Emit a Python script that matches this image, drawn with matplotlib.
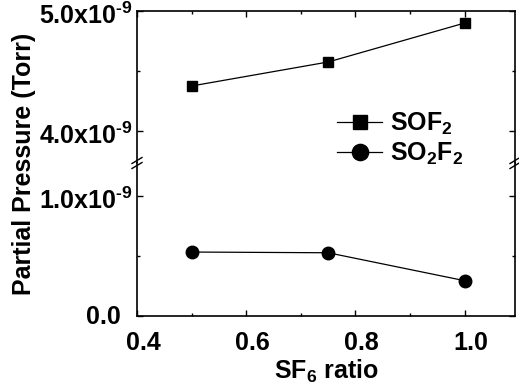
import matplotlib
matplotlib.use("Agg")
import matplotlib.pyplot as plt
from matplotlib.lines import Line2D
from matplotlib.ticker import FixedLocator
from matplotlib.transforms import ScaledTranslation

plt.rcParams['font.family'] = ['Liberation Sans', 'DejaVu Sans']
plt.rcParams['font.weight'] = 'bold'
plt.rcParams['mathtext.fontset'] = 'custom'
plt.rcParams['mathtext.rm'] = 'Liberation Sans:bold'
plt.rcParams['mathtext.it'] = 'Liberation Sans:bold'
plt.rcParams['mathtext.bf'] = 'Liberation Sans:bold'

# data
sf6_ratio = [0.5, 0.75, 1.0]
sof2 = [4.375e-9, 4.575e-9, 4.90e-9]
so2f2 = [0.533e-9, 0.527e-9, 0.294e-9]
upper_ticks = [4.0e-9, 5.0e-9]
upper_labels = ['4.0x10$^{\u20109}$', '5.0x10$^{\u20109}$']
lower_ticks = [0.0, 1.0e-9]
lower_labels = ['0.0', '1.0x10$^{\u20109}$']
x_ticks = [0.4, 0.6, 0.8, 1.0]
x_labels = ['0.4', '0.6', '0.8', '1.0']

W, H = 519, 385
fig = plt.figure(figsize=(W/100, H/100), dpi=100)
L, R = 137/W, 515/W
top, brk, bot = 1-11/H, 1-163/H, 1-316/H
ax_up = fig.add_axes([L, brk, R-L, top-brk])
ax_lo = fig.add_axes([L, bot, R-L, brk-bot])

fs = 18
for ax in (ax_up, ax_lo):
    ax.set_xlim(0.4, 1.092)
    ax.set_xticks(x_ticks)
    ax.xaxis.set_minor_locator(FixedLocator([0.5, 0.7, 0.9]))
    ax.tick_params(which='both', direction='in', top=True, right=True,
                   labelsize=fs, width=1.0)
    ax.tick_params(which='major', length=4)
    ax.tick_params(which='minor', length=2.5)
    for s in ax.spines.values():
        s.set_linewidth(1.2)

ax_up.plot(sf6_ratio, sof2, color='black', lw=0.9, marker='s', ms=7.5,
           label='SOF$_2$')
ax_lo.plot(sf6_ratio, so2f2, color='black', lw=0.9, marker='o', ms=9,
           label='SO$_2$F$_2$')

ax_up.set_ylim(3.733e-9, 5.0e-9)
ax_up.set_yticks(upper_ticks)
ax_up.set_yticklabels(upper_labels)
ax_up.yaxis.set_minor_locator(FixedLocator([4.5e-9]))
ax_up.spines['bottom'].set_visible(False)
ax_up.tick_params(which='both', bottom=False, labelbottom=False)
ax_up.tick_params(axis='y', pad=3)

ax_lo.set_ylim(0, 1.275e-9)
ax_lo.set_yticks(lower_ticks)
ax_lo.set_yticklabels(lower_labels)
ax_lo.yaxis.set_minor_locator(FixedLocator([0.5e-9]))
ax_lo.spines['top'].set_visible(False)
ax_lo.tick_params(which='both', top=False)
ax_lo.tick_params(axis='y', pad=3)
ax_lo.set_xticklabels(x_labels)
ax_lo.tick_params(axis='x', pad=10.5)
ax_lo.set_xlabel('SF$_6$ ratio', fontsize=fs, fontweight='bold', labelpad=2)

# shift tick labels like the original
for lab in ax_lo.get_xticklabels():
    lab.set_transform(lab.get_transform() + ScaledTranslation(0.06, 0, fig.dpi_scale_trans))
for ax in (ax_up, ax_lo):
    for lab in ax.get_yticklabels():
        lab.set_transform(lab.get_transform() + ScaledTranslation(0, -0.025, fig.dpi_scale_trans))
ylabs = ax_lo.get_yticklabels()
ylabs[0].set_transform(ylabs[0].get_transform() + ScaledTranslation(-0.12, 0.045, fig.dpi_scale_trans))

fig.text(24/W, 1-163.5/H, 'Partial Pressure (Torr)', rotation=90,
         fontsize=fs, fontweight='bold', ha='center', va='center')

# break marks
for xp in (137, 515):
    for dy in (-2.5, 2.5):
        fig.add_artist(Line2D([(xp-5)/W, (xp+5)/W],
                              [1-(163+dy+3)/H, 1-(163+dy-3)/H],
                              transform=fig.transFigure, color='black', lw=1.0))

h1, l1 = ax_up.get_legend_handles_labels()
h2, l2 = ax_lo.get_legend_handles_labels()
fig.legend(h1+h2, l1+l2, loc='upper left', frameon=False,
           bbox_to_anchor=(337/W, 1-110.5/H), bbox_transform=fig.transFigure,
           fontsize=fs, handlelength=1.8, handletextpad=0.3, borderpad=0,
           borderaxespad=0, labelspacing=0.15, markerscale=1.3)

fig.savefig('out.png', dpi=100)
